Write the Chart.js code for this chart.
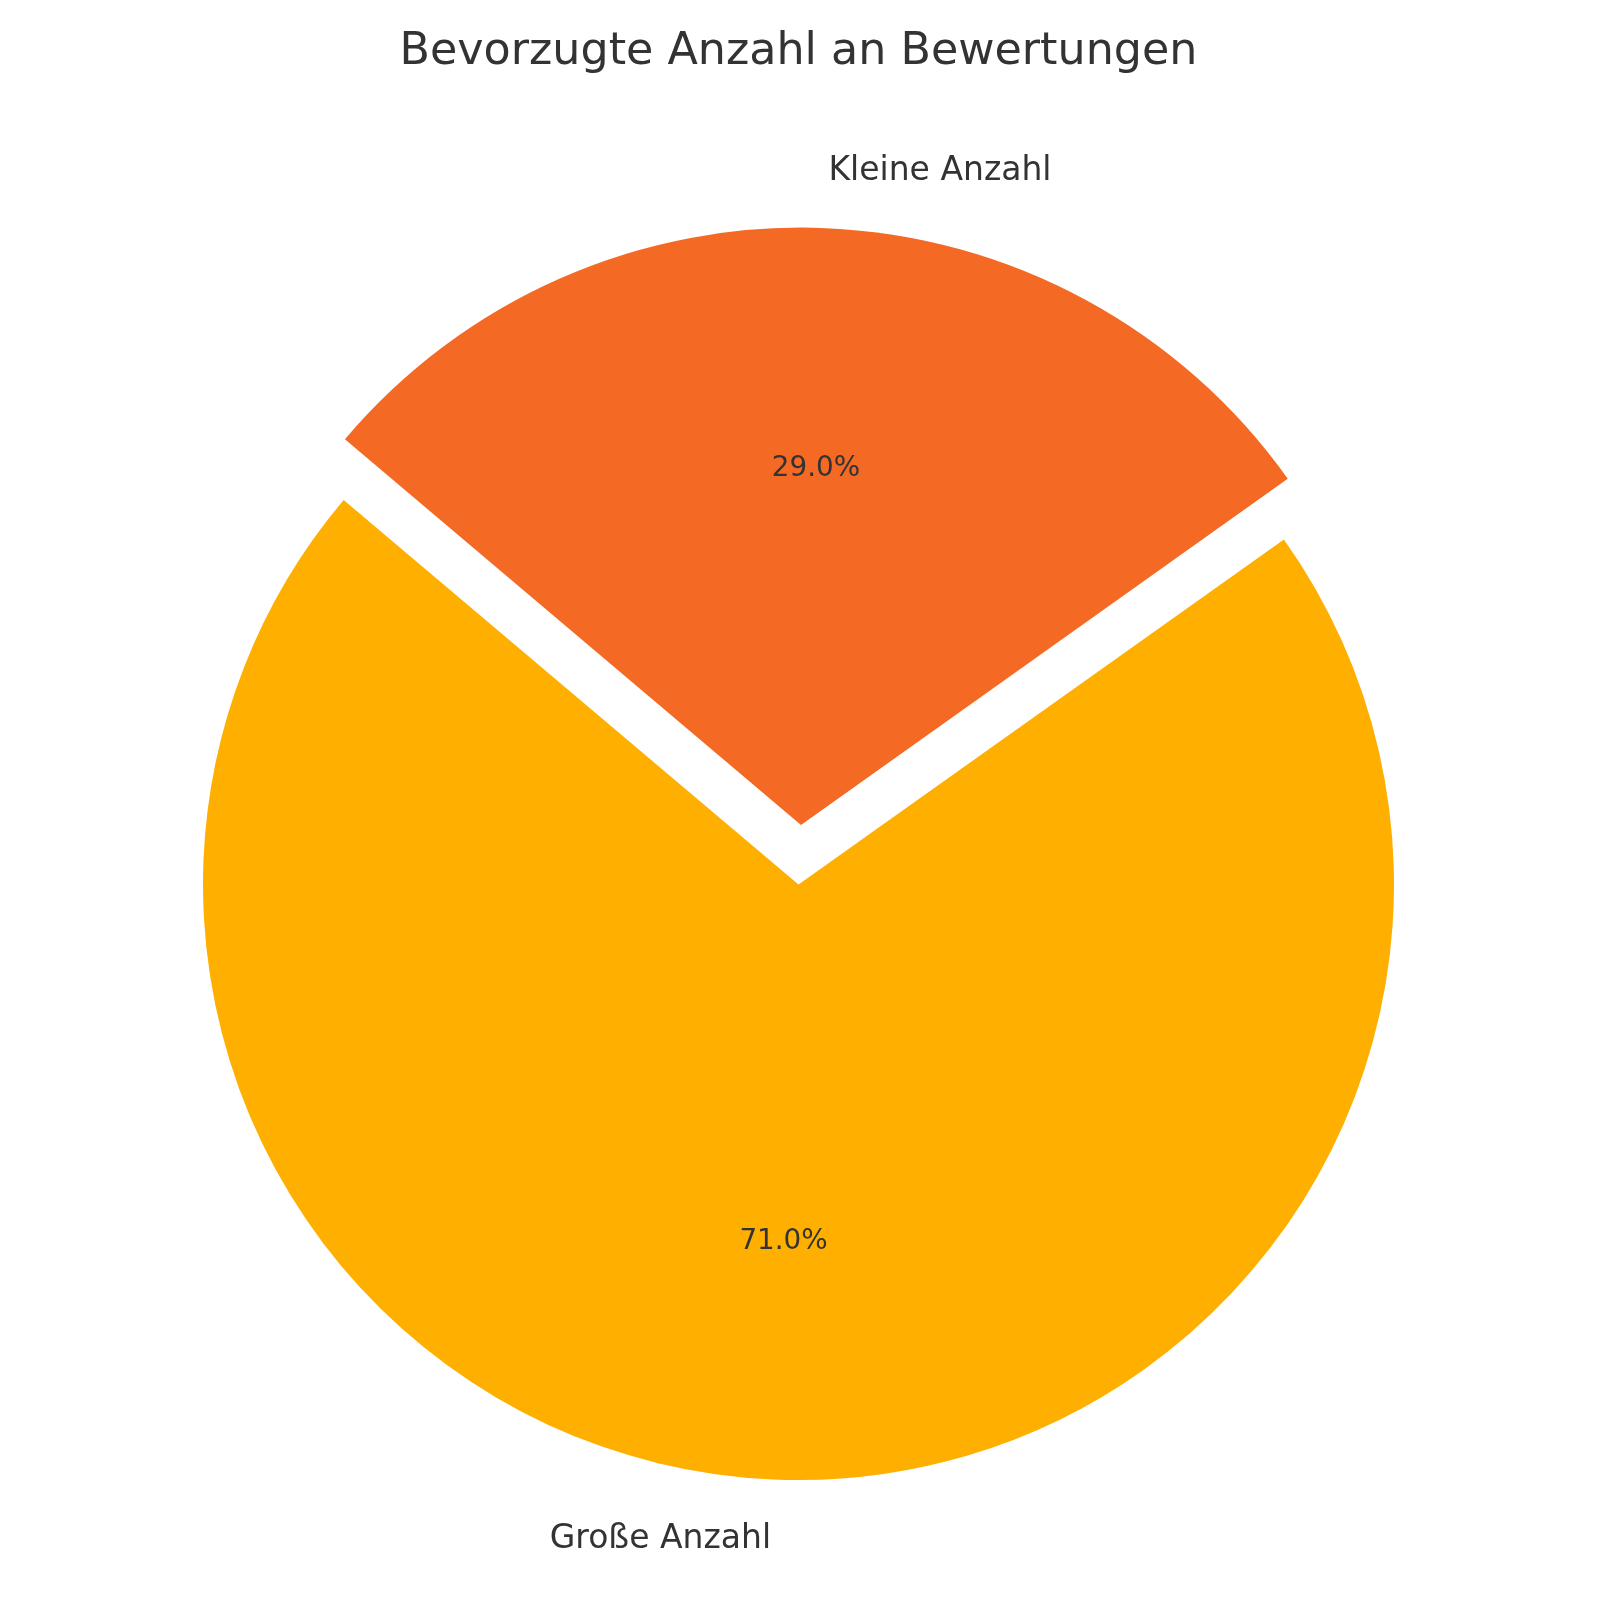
<!DOCTYPE html>
<html>
<head>
<meta charset="utf-8">
<script src="https://cdn.jsdelivr.net/npm/chart.js@4"></script>
<style>
  body { margin: 0; background: #ffffff; }
  canvas { display: block; }
</style>
</head>
<body>
<canvas id="piegraph" width="1600" height="1600"></canvas>
<script>
// data
const categories = ['Kleine Anzahl', 'Große Anzahl'];
const shares = [29, 71];
const explode = [0.1, 0];
const sliceColors = ['#F46A25', '#FFAF00'];

const PIE_RADIUS = 595.5;
const TEXT_COLOR = '#333333';
const FONT = "'DejaVu Sans', sans-serif";

// labels outside (1.1 r) and percentages inside (0.6 r), like matplotlib
const pieText = {
  id: 'pieText',
  afterDatasetsDraw(chart) {
    const ctx = chart.ctx;
    const meta = chart.getDatasetMeta(0);
    const total = shares.reduce((a, b) => a + b, 0);
    meta.data.forEach((arc, i) => {
      const p = arc.getProps(['x', 'y', 'startAngle', 'endAngle', 'outerRadius'], true);
      const mid = (p.startAngle + p.endAngle) / 2;
      const r = p.outerRadius;
      const cx = p.x + Math.cos(mid) * explode[i] * r;
      const cy = p.y + Math.sin(mid) * explode[i] * r;
      ctx.save();
      ctx.fillStyle = TEXT_COLOR;
      ctx.textBaseline = 'alphabetic';

      // percentage
      let size = 27.8;
      ctx.font = size + 'px ' + FONT;
      ctx.textAlign = 'center';
      const pct = (shares[i] / total * 100).toFixed(1) + '%';
      ctx.fillText(pct, cx + Math.cos(mid) * 0.6 * r, cy + Math.sin(mid) * 0.6 * r + 0.276 * size);

      // category label
      size = 33;
      ctx.font = size + 'px ' + FONT;
      const lx = cx + Math.cos(mid) * 1.1 * r;
      const ly = cy + Math.sin(mid) * 1.1 * r;
      ctx.textAlign = Math.cos(mid) > 0 ? 'left' : 'right';
      ctx.fillText(categories[i], lx, ly + 0.276 * size);
      ctx.restore();
    });
  }
};

window.addEventListener('load', function () {
  const ctx = document.getElementById('piegraph').getContext('2d');
  new Chart(ctx, {
    type: 'pie',
    data: {
      labels: categories,
      datasets: [{
        data: shares,
        backgroundColor: sliceColors,
        borderWidth: 0,
        // arc offset is applied at 1/4 in Chart.js v4
        offset: c => explode[c.dataIndex] * PIE_RADIUS * 4
      }]
    },
    options: {
      responsive: false,
      animation: false,
      devicePixelRatio: 1,
      radius: PIE_RADIUS,
      rotation: -49.8,
      layout: { padding: { left: 2, right: 5, top: 0, bottom: 6.6 } },
      plugins: {
        legend: { display: false },
        tooltip: { enabled: false },
        title: {
          display: true,
          text: 'Bevorzugte Anzahl an Bewertungen',
          color: TEXT_COLOR,
          font: { family: FONT, size: 44.4, weight: 'normal', lineHeight: 1.2 },
          padding: { top: 25.5, bottom: 96.8 }
        }
      }
    },
    plugins: [pieText]
  });
});
</script>
</body>
</html>
